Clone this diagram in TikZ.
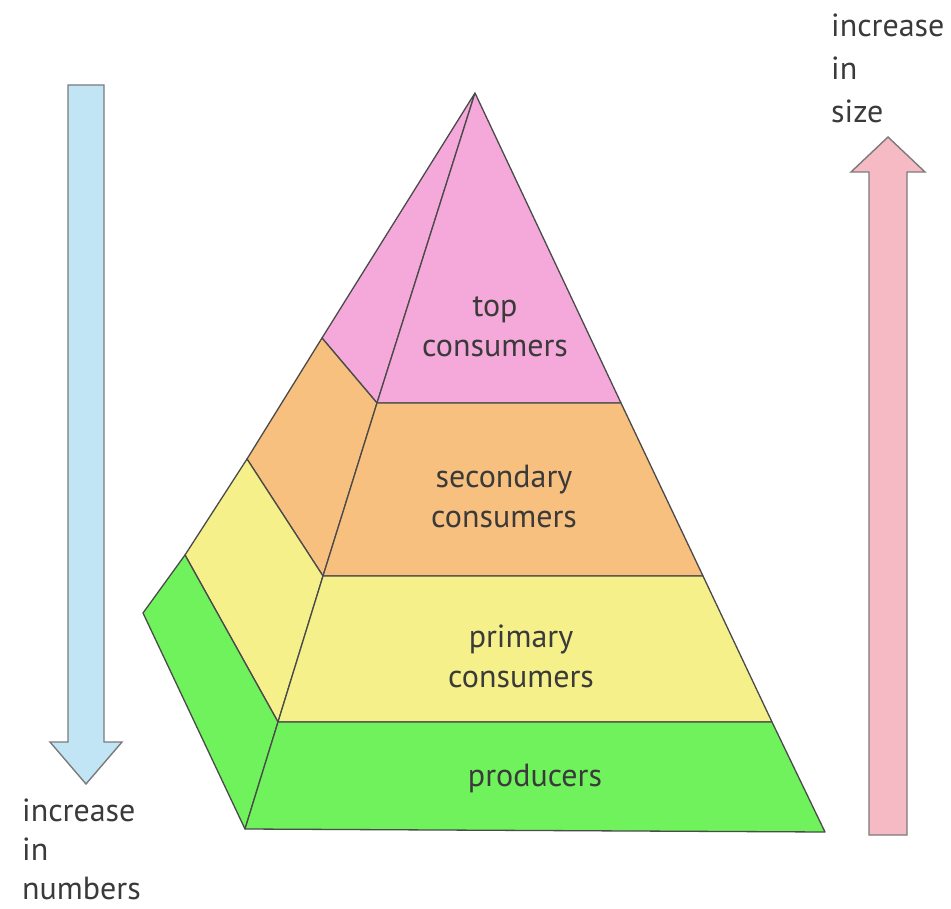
\documentclass[tikz,border=0pt]{standalone}
\usepackage{fontspec}
\setmainfont{PT Sans}
\definecolor{pinkfill}{HTML}{F5A9DA}
\definecolor{orangefill}{HTML}{F8C07E}
\definecolor{yellowfill}{HTML}{F6F08A}
\definecolor{greenfill}{HTML}{6FF25C}
\definecolor{edge}{HTML}{4A4A4A}
\definecolor{labeltext}{HTML}{3A3A3A}
\definecolor{bluearrow}{HTML}{C2E5F6}
\definecolor{pinkarrow}{HTML}{F6BAC4}
\definecolor{arrowedge}{HTML}{7A7A7A}
\begin{document}
\begin{tikzpicture}[x=1pt,y=-1pt,
  face/.style={draw=edge,line width=1.3pt,line join=round},
  bigarrow/.style={draw=arrowedge,line width=1.4pt,line join=miter},
  lbl/.style={text=labeltext,font=\fontsize{32}{40}\selectfont,inner sep=0pt,align=center},
  sidelbl/.style={text=labeltext,inner sep=0pt,align=left,anchor=north west}]
\useasboundingbox (0,0) rectangle (951,909);

% pyramid corner points
\coordinate (A)  at (475,93);
\coordinate (T1) at (377,403);
\coordinate (S1) at (323,576);
\coordinate (P1) at (278,722);
\coordinate (B1) at (245,829);
\coordinate (R1) at (621,403);
\coordinate (R2) at (703,576);
\coordinate (R3) at (772,722);
\coordinate (R4) at (825,832);
\coordinate (O1) at (322,338);
\coordinate (O2) at (247,459);
\coordinate (O3) at (185,555);
\coordinate (O4) at (143,613);

% side faces
\path[face,fill=pinkfill]   (A) -- (O1) -- (T1) -- cycle;
\path[face,fill=orangefill] (O1) -- (O2) -- (S1) -- (T1) -- cycle;
\path[face,fill=yellowfill] (O2) -- (O3) -- (P1) -- (S1) -- cycle;
\path[face,fill=greenfill]  (O3) -- (O4) -- (B1) -- (P1) -- cycle;

% front faces
\path[face,fill=pinkfill]   (A) -- (T1) -- (R1) -- cycle;
\path[face,fill=orangefill] (T1) -- (S1) -- (R2) -- (R1) -- cycle;
\path[face,fill=yellowfill] (S1) -- (P1) -- (R3) -- (R2) -- cycle;
\path[face,fill=greenfill]  (P1) -- (B1) -- (R4) -- (R3) -- cycle;

% layer labels
\node[lbl] (top) at (495,327) {top\\consumers};
\node[lbl] (sec) at (504,496) {secondary\\consumers};
\node[lbl] (pri) at (521,656) {primary\\consumers};
\node[lbl] (pro) at (535,778) {producers};

% downward arrow (numbers)
\path[bigarrow,fill=bluearrow]
  (68,85) -- (104,85) -- (104,742) -- (122,742) -- (86,784)
  -- (50,742) -- (68,742) -- cycle;
% upward arrow (size)
\path[bigarrow,fill=pinkarrow]
  (869,835) -- (907,835) -- (907,172) -- (925,172) -- (888,137)
  -- (851,172) -- (869,172) -- cycle;

% arrow captions
\node[sidelbl,font=\fontsize{32}{39}\selectfont] (numbers) at (22,799) {increase\\in\\numbers};
\node[sidelbl,font=\fontsize{32}{43}\selectfont] (size) at (831,14) {increase\\in\\size};
\end{tikzpicture}
\end{document}
